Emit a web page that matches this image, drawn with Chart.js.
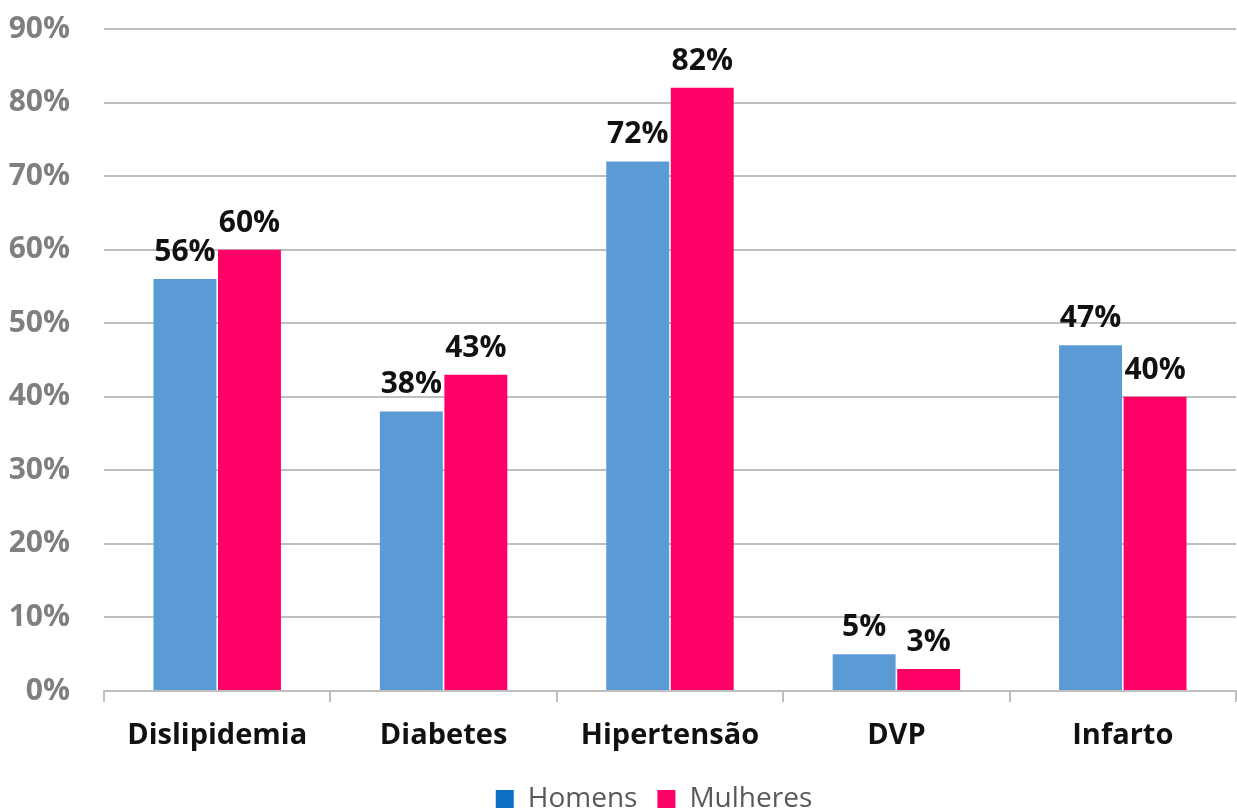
<!DOCTYPE html>
<html>
<head>
<meta charset="utf-8">
<script src="https://cdn.jsdelivr.net/npm/chart.js@4.4.1/dist/chart.umd.min.js"></script>
<style>
  html, body { margin: 0; padding: 0; background: #ffffff; }
  #wrap { width: 1237px; height: 810px; position: relative; }
</style>
</head>
<body>
<div id="wrap"><canvas id="chart" width="1237" height="810"></canvas></div>
<script>
const categories = ['Dislipidemia', 'Diabetes', 'Hipertensão', 'DVP', 'Infarto'];
const seriesNames = ['Homens', 'Mulheres'];
const homens = [56, 38, 72, 5, 47];
const mulheres = [60, 43, 82, 3, 40];
const yMax = 90;
const yStep = 10;

const FONT = '"Open Sans", "Noto Sans", sans-serif';

// Bold value labels above every bar
const valueLabels = {
  id: 'valueLabels',
  afterDatasetsDraw(chart) {
    const ctx = chart.ctx;
    ctx.save();
    ctx.font = 'bold 30px ' + FONT;
    ctx.fillStyle = '#111111';
    ctx.textAlign = 'center';
    ctx.textBaseline = 'alphabetic';
    chart.data.datasets.forEach((ds, i) => {
      chart.getDatasetMeta(i).data.forEach((bar, j) => {
        ctx.fillText(ds.data[j] + '%', bar.x, bar.y - 18);
      });
    });
    ctx.restore();
  }
};

// Nudge the legend row a little right and down
const legendNudge = {
  id: 'legendNudge',
  afterUpdate(chart) {
    const lg = chart.legend;
    if (!lg) return;
    const dx = 36, dy = 13;
    lg.left += dx; lg.right += dx;
    lg.top += dy; lg.bottom += dy;
    lg.adjustHitBoxes();
  }
};

new Chart(document.getElementById('chart'), {
  type: 'bar',
  data: {
    labels: categories,
    datasets: [
      { label: seriesNames[0], data: homens, backgroundColor: '#5b9bd5', legendColor: '#0d6fc4' },
      { label: seriesNames[1], data: mulheres, backgroundColor: '#ff0066', legendColor: '#ff0066' }
    ]
  },
  options: {
    responsive: false,
    animation: false,
    devicePixelRatio: 1,
    layout: { padding: { top: 29, right: 1, left: 0, bottom: 0 } },
    datasets: { bar: { categoryPercentage: 0.57, barPercentage: 0.975 } },
    plugins: {
      tooltip: { enabled: false },
      legend: {
        position: 'bottom',
        labels: {
          font: { family: FONT, size: 28 },
          color: '#595959',
          boxWidth: 18,
          boxHeight: 18,
          padding: 20,
          generateLabels(chart) {
            return chart.data.datasets.map((ds, i) => ({
              text: ds.label,
              fillStyle: ds.legendColor,
              strokeStyle: ds.legendColor,
              lineWidth: 0,
              fontColor: '#595959',
              datasetIndex: i,
              hidden: false
            }));
          }
        }
      }
    },
    scales: {
      x: {
        offset: true,
        grid: {
          offset: true,
          drawOnChartArea: false,
          drawTicks: true,
          tickLength: 11,
          color: '#bfbfbf',
          lineWidth: 2
        },
        border: { display: true, color: '#bfbfbf', width: 2 },
        ticks: {
          font: { family: FONT, size: 29, weight: 'bold' },
          color: '#111111',
          padding: 16
        },
        afterFit(scale) { scale.height = 61; }
      },
      y: {
        min: 0,
        max: yMax,
        ticks: {
          stepSize: yStep,
          font: { family: FONT, size: 30, weight: 'bold' },
          color: '#7f7f7f',
          padding: 34,
          callback: v => v + '%'
        },
        grid: { color: '#bfbfbf', lineWidth: 2, drawTicks: false },
        border: { display: false },
        afterFit(scale) {
          scale.width = 104;
          scale.paddingTop = 0;
          scale.paddingBottom = 0;
        }
      }
    }
  },
  plugins: [valueLabels, legendNudge]
});
</script>
</body>
</html>
